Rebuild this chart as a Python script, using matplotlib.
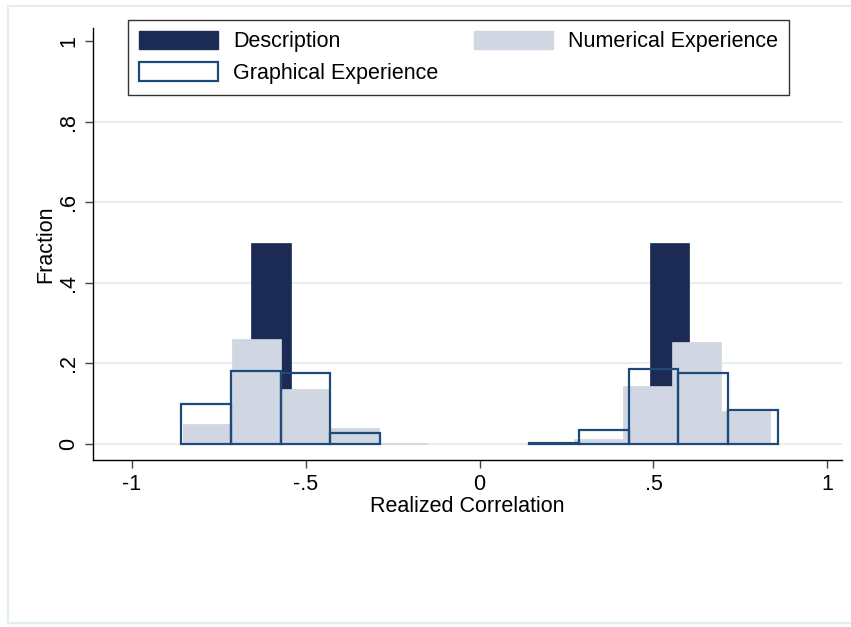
import matplotlib
matplotlib.use("Agg")
import matplotlib.pyplot as plt
from matplotlib.patches import Patch, Rectangle
import numpy as np

plt.rcParams['font.family'] = ['Liberation Sans', 'DejaVu Sans']

# 分布のデータ（ビン左端・幅・高さ）
desc_left = [-0.657, 0.490]
desc_width = [0.115, 0.112]
desc_frac = [0.50, 0.50]

num_start = -0.853
num_binw = 0.1407
num_frac = [0.050, 0.260, 0.137, 0.039, 0.003, 0.0, 0.0, 0.0, 0.012, 0.143, 0.254, 0.081]

graph_start = -6 / 7
graph_binw = 1 / 7
graph_frac = [0.099, 0.181, 0.177, 0.028, 0.0, 0.0, 0.0, 0.002, 0.034, 0.187, 0.177, 0.084]

xticks = [-1, -0.5, 0, 0.5, 1]
xtick_labels = ['-1', '-.5', '0', '.5', '1']
yticks = [0, 0.2, 0.4, 0.6, 0.8, 1]
ytick_labels = ['0', '.2', '.4', '.6', '.8', '1']
grid_levels = [0, 0.2, 0.4, 0.6, 0.8]

DARK = '#1c2b54'
LIGHT = '#d0d6e2'
OUTLINE = '#1d4a78'
GRID = '#e6eef0'

fig = plt.figure(figsize=(8.51, 6.27), dpi=100)
ax = fig.add_axes([93 / 851, 1 - 460 / 627, 749 / 851, 432 / 627])

for g in grid_levels:
    ax.axhline(g, color=GRID, linewidth=1.5, zorder=0)

# Description
ax.bar(desc_left, desc_frac, width=desc_width, align='edge',
       color=DARK, edgecolor=DARK, linewidth=0.5, zorder=1)

# Numerical Experience
num_frac = np.array(num_frac)
num_left = num_start + num_binw * np.arange(len(num_frac))
m = num_frac > 0
ax.bar(num_left[m], num_frac[m], width=num_binw, align='edge',
       color=LIGHT, edgecolor=LIGHT, linewidth=0.5, zorder=2)

# Graphical Experience
graph_frac = np.array(graph_frac)
graph_left = graph_start + graph_binw * np.arange(len(graph_frac))
m = graph_frac > 0
ax.bar(graph_left[m], graph_frac[m], width=graph_binw, align='edge',
       facecolor='none', edgecolor=OUTLINE, linewidth=1.6, zorder=3)

ax.set_xlim(-1.111, 1.042)
ax.set_ylim(-0.0398, 1.0335)

ax.set_xticks(xticks)
ax.set_xticklabels(xtick_labels, fontsize=15.5)
ax.set_yticks(yticks)
ax.set_yticklabels(ytick_labels, fontsize=15.5, rotation=90, va='center')
ax.tick_params(axis='both', length=6, width=1, color='#444444', pad=4)

ax.set_xlabel('Realized Correlation', fontsize=15.5, labelpad=1)
ax.set_ylabel('Fraction', fontsize=15.5, labelpad=1)

for s in ['top', 'right']:
    ax.spines[s].set_visible(False)
for s in ['left', 'bottom']:
    ax.spines[s].set_linewidth(1)
    ax.spines[s].set_color('black')

handles = [
    Patch(facecolor=DARK, edgecolor=DARK, label='Description'),
    Patch(facecolor='white', edgecolor=OUTLINE, linewidth=1.6, label='Graphical Experience'),
    Patch(facecolor=LIGHT, edgecolor=LIGHT, label='Numerical Experience'),
]
leg = fig.legend(handles=handles, ncol=2, loc='upper left',
                 bbox_to_anchor=(128 / 851, 1 - 20 / 627),
                 fontsize=15.5, frameon=True, fancybox=False, shadow=False,
                 handlelength=3.7, handleheight=0.95, handletextpad=0.68,
                 columnspacing=1.65, labelspacing=0.45, borderpad=0.5,
                 borderaxespad=0)
leg.get_frame().set_edgecolor('black')
leg.get_frame().set_linewidth(1)

# 外枠
fig.patches.append(Rectangle((8 / 851, 1 - 623 / 627), 1.0, 617 / 627,
                             transform=fig.transFigure, fill=False,
                             edgecolor='#e2eeee', linewidth=1.5))

fig.savefig('out.png', dpi=100)
